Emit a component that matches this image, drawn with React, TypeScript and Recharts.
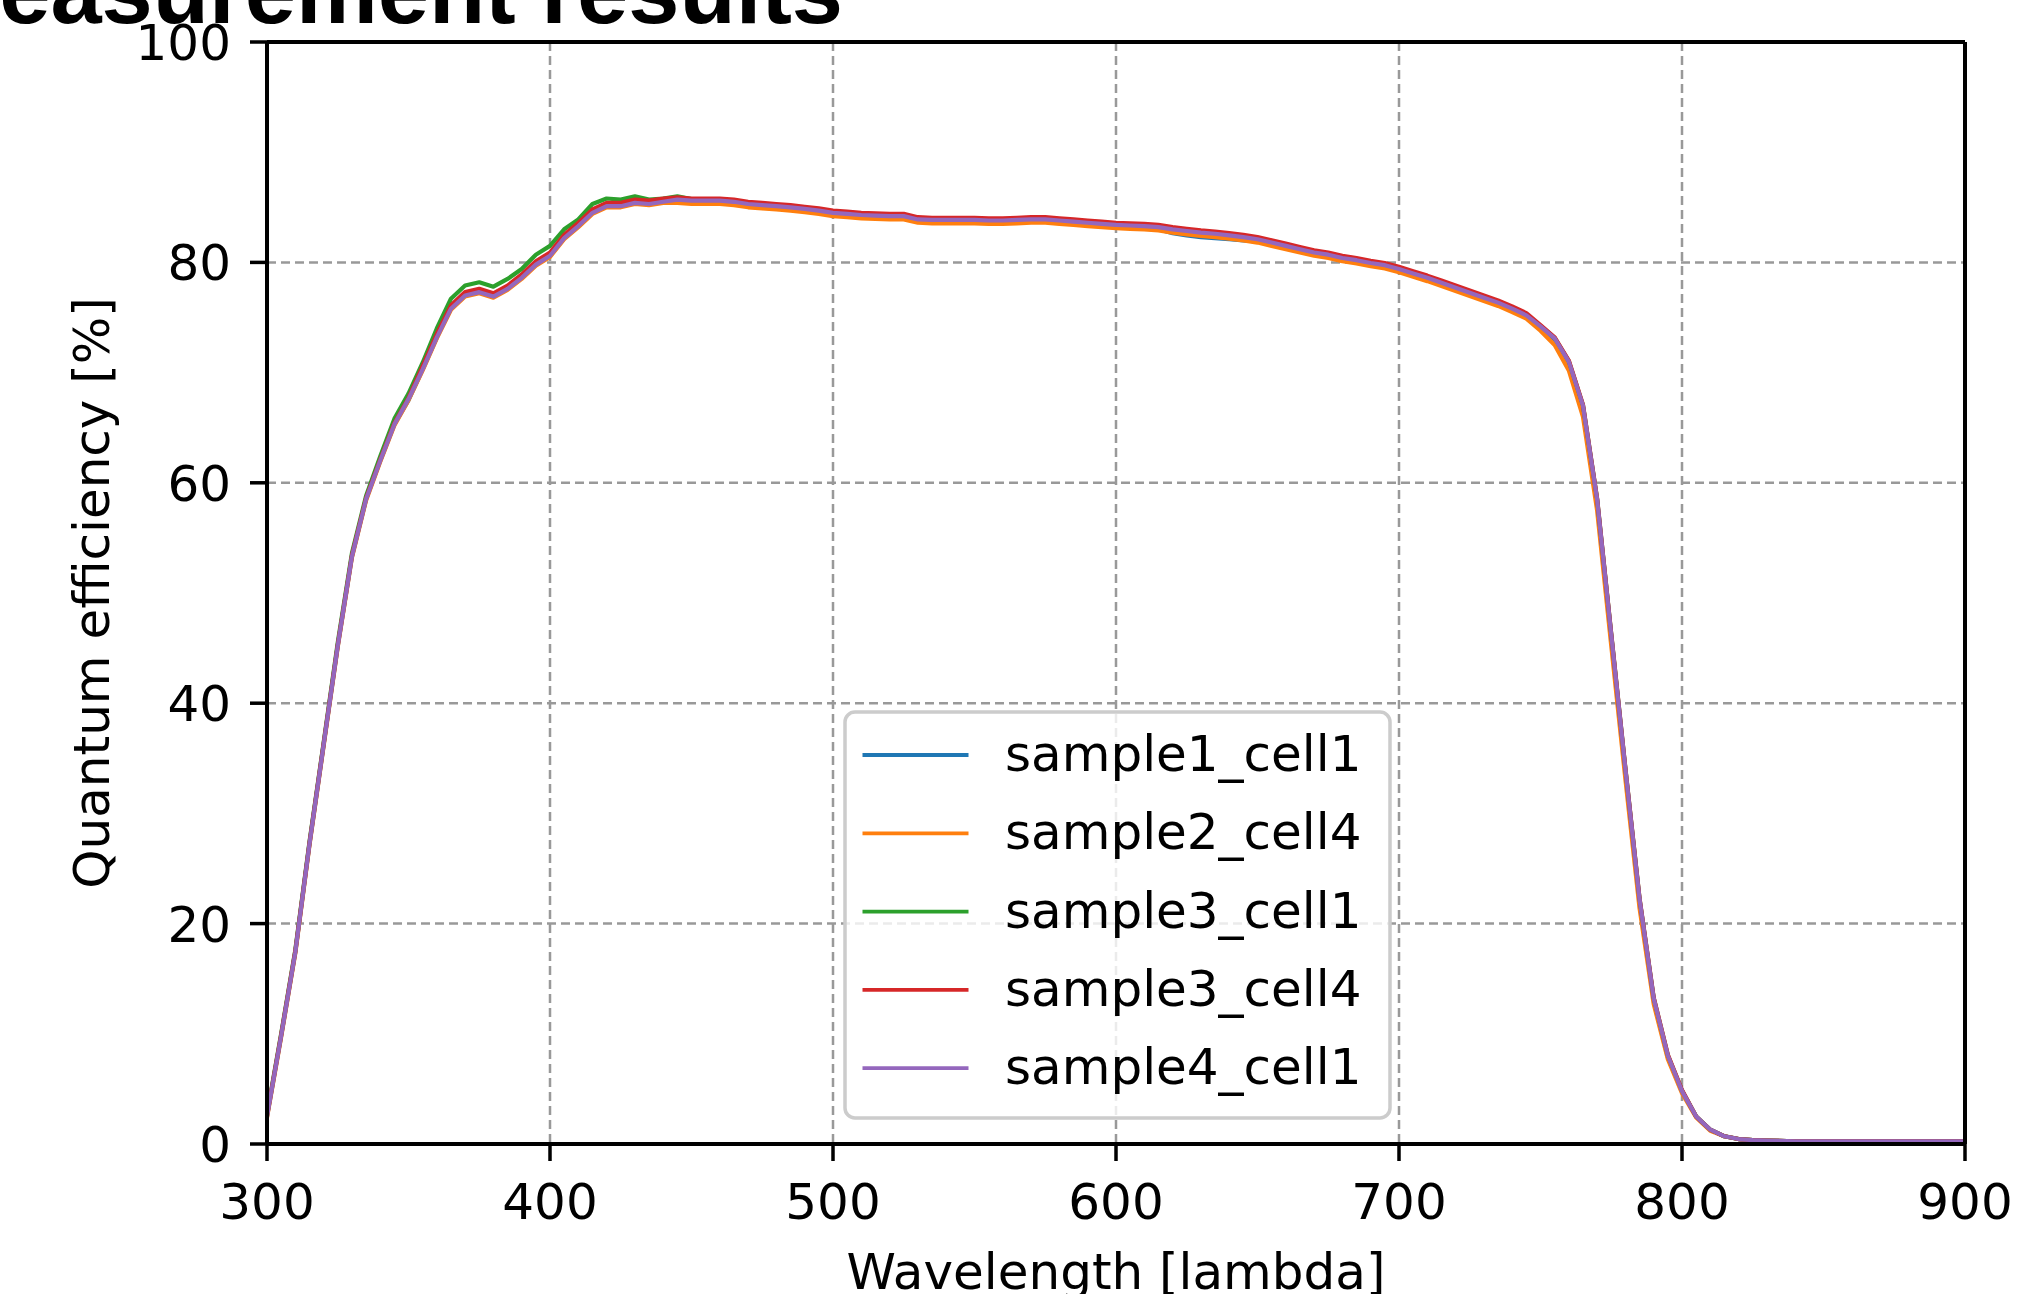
import React from 'react';
import { LineChart, Line, XAxis, YAxis, CartesianGrid, ReferenceLine, Legend, Label } from 'recharts';

const wavelengths = [
  300, 305, 310, 315, 320, 325, 330, 335, 340, 345, 350, 355, 360, 365, 370, 375, 380, 385, 390, 395,
  400, 405, 410, 415, 420, 425, 430, 435, 440, 445, 450, 455, 460, 465, 470, 475, 480, 485, 490, 495,
  500, 505, 510, 515, 520, 525, 530, 535, 540, 545, 550, 555, 560, 565, 570, 575, 580, 585, 590, 595,
  600, 605, 610, 615, 620, 625, 630, 635, 640, 645, 650, 655, 660, 665, 670, 675, 680, 685, 690, 695,
  700, 705, 710, 715, 720, 725, 730, 735, 740, 745, 750, 755, 760, 765, 770, 775, 780, 785, 790, 795,
  800, 805, 810, 815, 820, 825, 830, 840, 860, 880, 900,
];

const sample1_cell1 = [
  2.5, 9.8, 17.4, 27.2, 36.2, 45.2, 53.3, 58.5, 62.0, 65.3, 67.5, 70.3, 73.2, 75.8, 77.0, 77.3, 76.9, 77.6, 78.6, 79.8,
  80.6, 82.2, 83.3, 84.5, 85.1, 85.1, 85.4, 85.3, 85.5, 85.6, 85.5, 85.5, 85.5, 85.4, 85.2, 85.1, 85.0, 84.9, 84.75, 84.6,
  84.4, 84.3, 84.2, 84.15, 84.1, 84.1, 83.8, 83.75, 83.75, 83.75, 83.75, 83.7, 83.7, 83.75, 83.8, 83.8, 83.7, 83.6, 83.5, 83.4,
  83.3, 83.25, 83.2, 83.0, 82.65, 82.45, 82.3, 82.2, 82.1, 82.0, 81.9, 81.7, 81.4, 81.1, 80.8, 80.6, 80.3, 80.1, 79.85, 79.65,
  79.3, 78.9, 78.5, 78.05, 77.6, 77.15, 76.7, 76.25, 75.7, 75.1, 74.1, 73.0, 70.9, 66.9, 58.4, 46.1, 33.9, 22.1, 13.1, 7.9,
  4.8, 2.5, 1.3, 0.7, 0.45, 0.35, 0.3, 0.25, 0.25, 0.25, 0.25,
];

const sample2_cell4 = [
  2.4, 9.7, 17.3, 27.1, 36.1, 45.1, 53.2, 58.4, 61.9, 65.2, 67.5, 70.2, 73.1, 75.7, 76.9, 77.2, 76.8, 77.5, 78.5, 79.7,
  80.5, 82.1, 83.2, 84.4, 85.0, 85.0, 85.3, 85.2, 85.4, 85.4, 85.3, 85.3, 85.3, 85.2, 85.0, 84.9, 84.8, 84.7, 84.55, 84.4,
  84.2, 84.1, 84.0, 83.95, 83.9, 83.9, 83.6, 83.55, 83.55, 83.55, 83.55, 83.5, 83.5, 83.55, 83.6, 83.6, 83.5, 83.4, 83.3, 83.2,
  83.1, 83.05, 83.0, 82.9, 82.7, 82.55, 82.4, 82.3, 82.15, 82.0, 81.8, 81.5, 81.2, 80.9, 80.6, 80.4, 80.1, 79.9, 79.65, 79.45,
  79.1, 78.7, 78.3, 77.85, 77.4, 76.95, 76.5, 76.05, 75.5, 74.9, 73.8, 72.5, 70.2, 66.0, 57.5, 45.2, 33.1, 21.4, 12.7, 7.7,
  4.6, 2.4, 1.2, 0.7, 0.45, 0.35, 0.3, 0.25, 0.25, 0.25, 0.25,
];

const sample3_cell1 = [
  2.7, 10.0, 17.6, 27.4, 36.4, 45.5, 53.6, 58.8, 62.4, 65.8, 68.1, 70.9, 74.0, 76.7, 77.9, 78.2, 77.8, 78.5, 79.4, 80.7,
  81.5, 83.0, 83.9, 85.3, 85.8, 85.7, 86.0, 85.7, 85.8, 86.0, 85.75, 85.7, 85.7, 85.6, 85.4, 85.3, 85.2, 85.1, 84.95, 84.8,
  84.6, 84.5, 84.4, 84.35, 84.3, 84.3, 84.0, 83.95, 83.95, 83.95, 83.95, 83.9, 83.9, 83.95, 84.0, 84.0, 83.9, 83.8, 83.7, 83.6,
  83.5, 83.45, 83.4, 83.3, 83.1, 82.95, 82.8, 82.7, 82.55, 82.4, 82.2, 81.9, 81.6, 81.3, 81.0, 80.8, 80.5, 80.3, 80.05, 79.85,
  79.5, 79.1, 78.7, 78.25, 77.8, 77.35, 76.9, 76.45, 75.9, 75.3, 74.25, 73.15, 71.05, 67.05, 58.55, 46.25, 34.05, 22.25, 13.25, 8.05,
  4.85, 2.5, 1.3, 0.7, 0.45, 0.35, 0.3, 0.25, 0.25, 0.25, 0.25,
];

const sample3_cell4 = [
  2.6, 9.9, 17.5, 27.3, 36.3, 45.3, 53.4, 58.6, 62.1, 65.4, 67.7, 70.6, 73.5, 76.1, 77.3, 77.6, 77.2, 77.9, 78.9, 80.1,
  80.9, 82.5, 83.6, 84.8, 85.4, 85.4, 85.7, 85.6, 85.8, 85.9, 85.8, 85.8, 85.8, 85.7, 85.5, 85.4, 85.3, 85.2, 85.05, 84.9,
  84.7, 84.6, 84.5, 84.45, 84.4, 84.4, 84.1, 84.05, 84.05, 84.05, 84.05, 84.0, 84.0, 84.05, 84.1, 84.1, 84.0, 83.9, 83.8, 83.7,
  83.6, 83.55, 83.5, 83.4, 83.2, 83.05, 82.9, 82.8, 82.65, 82.5, 82.3, 82.0, 81.7, 81.4, 81.1, 80.9, 80.6, 80.4, 80.15, 79.95,
  79.6, 79.2, 78.8, 78.35, 77.9, 77.45, 77.0, 76.55, 76.0, 75.4, 74.3, 73.2, 71.1, 67.1, 58.6, 46.3, 34.1, 22.3, 13.3, 8.1,
  4.9, 2.5, 1.3, 0.7, 0.45, 0.35, 0.3, 0.25, 0.25, 0.25, 0.25,
];

const sample4_cell1 = [
  2.5, 9.8, 17.4, 27.2, 36.2, 45.2, 53.3, 58.5, 62.0, 65.3, 67.6, 70.3, 73.2, 75.8, 77.0, 77.3, 76.9, 77.6, 78.6, 79.8,
  80.6, 82.2, 83.3, 84.5, 85.1, 85.1, 85.4, 85.3, 85.5, 85.7, 85.6, 85.6, 85.6, 85.5, 85.3, 85.2, 85.1, 85.0, 84.85, 84.7,
  84.5, 84.4, 84.3, 84.25, 84.2, 84.2, 83.9, 83.85, 83.85, 83.85, 83.85, 83.8, 83.8, 83.85, 83.9, 83.9, 83.8, 83.7, 83.6, 83.5,
  83.4, 83.35, 83.3, 83.2, 83.0, 82.85, 82.7, 82.6, 82.45, 82.3, 82.1, 81.8, 81.5, 81.2, 80.9, 80.7, 80.4, 80.2, 79.95, 79.75,
  79.4, 79.0, 78.6, 78.15, 77.7, 77.25, 76.8, 76.35, 75.8, 75.2, 74.2, 73.1, 71.0, 67.0, 58.5, 46.2, 34.0, 22.2, 13.2, 8.0,
  4.8, 2.5, 1.3, 0.7, 0.45, 0.35, 0.3, 0.25, 0.25, 0.25, 0.25,
];

const seriesNames = ['sample1_cell1', 'sample2_cell4', 'sample3_cell1', 'sample3_cell4', 'sample4_cell1'];
const seriesValues = [sample1_cell1, sample2_cell4, sample3_cell1, sample3_cell4, sample4_cell1];
const seriesColors = ['#1f77b4', '#ff7f0e', '#2ca02c', '#d62728', '#9467bd'];

const xTicks = [300, 400, 500, 600, 700, 800, 900];
const yTicks = [0, 20, 40, 60, 80, 100];

const titleText = 'Measurement results';
const xLabelText = 'Wavelength [lambda]';
const yLabelText = 'Quantum efficiency [%]';

const data = wavelengths.map((wl, i) => {
  const row: Record<string, number> = { wl };
  seriesNames.forEach((n, k) => {
    row[n] = seriesValues[k][i];
  });
  return row;
});

const W = 2041;
const H = 1294;
const PLOT_LEFT = 267;
const PLOT_RIGHT = 1965;
const PLOT_TOP = 42;
const PLOT_BOTTOM = 1144;
const Y_AXIS_W = 100;
const X_AXIS_H = 60;
const FONT = '"DejaVu Sans", sans-serif';

const XTick = (props: any) => {
  const { x, y, payload } = props;
  return (
    <text x={x} y={y + 58} textAnchor="middle" fontFamily={FONT} fontSize={50} fill="#000">
      {payload.value}
    </text>
  );
};

const YTick = (props: any) => {
  const { x, y, payload } = props;
  return (
    <text x={x - 19} y={y + 18} textAnchor="end" fontFamily={FONT} fontSize={50} fill="#000">
      {payload.value}
    </text>
  );
};

const LegendBox = () => {
  const rowGap = 78.3;
  return (
    <svg width={552} height={412} style={{ display: 'block', overflow: 'visible' }}>
      <rect x={2} y={2} width={545} height={406} rx={10} ry={10} fill="#ffffff" fillOpacity={0.8} stroke="#cccccc" strokeWidth={3.5} />
      {seriesNames.map((n, i) => (
        <g key={n}>
          <line x1={19.5} x2={125.5} y1={45 + i * rowGap} y2={45 + i * rowGap} stroke={seriesColors[i]} strokeWidth={3.8} />
          <text x={162} y={45 + i * rowGap + 16} fontFamily={FONT} fontSize={50} fill="#000">
            {n}
          </text>
        </g>
      ))}
    </svg>
  );
};

export default function App() {
  return (
    <div style={{ position: 'absolute', left: 0, top: 0, width: W, height: H, background: '#fff', overflow: 'hidden' }}>
      <LineChart
        width={W}
        height={H}
        data={data}
        margin={{ top: PLOT_TOP, right: W - PLOT_RIGHT, left: PLOT_LEFT - Y_AXIS_W, bottom: H - PLOT_BOTTOM - X_AXIS_H }}
      >
        <CartesianGrid stroke="#999999" strokeWidth={2.5} strokeDasharray="9 5" />
        <XAxis
          dataKey="wl"
          type="number"
          domain={[300, 900]}
          ticks={xTicks}
          height={X_AXIS_H}
          allowDataOverflow
          stroke="#000"
          axisLine={{ stroke: '#000', strokeWidth: 4 }}
          tickLine={{ stroke: '#000', strokeWidth: 3.5 }}
          tickSize={17}
          tickMargin={0}
          tick={<XTick />}
          interval={0}
        >
          <Label
            content={() => (
              <text x={(PLOT_LEFT + PLOT_RIGHT) / 2} y={1289} textAnchor="middle" fontFamily={FONT} fontSize={50} fill="#000">
                {xLabelText}
              </text>
            )}
          />
        </XAxis>
        <YAxis
          type="number"
          domain={[0, 100]}
          ticks={yTicks}
          width={Y_AXIS_W}
          allowDataOverflow
          axisLine={{ stroke: '#000', strokeWidth: 4 }}
          tickLine={{ stroke: '#000', strokeWidth: 3.5 }}
          tickSize={17}
          tickMargin={0}
          tick={<YTick />}
          interval={0}
        >
          <Label
            content={() => (
              <text
                x={109}
                y={(PLOT_TOP + PLOT_BOTTOM) / 2}
                transform={`rotate(-90 109 ${(PLOT_TOP + PLOT_BOTTOM) / 2})`}
                textAnchor="middle"
                fontFamily={FONT}
                fontSize={50}
                fill="#000"
              >
                {yLabelText}
              </text>
            )}
          />
        </YAxis>
        {seriesNames.map((n, i) => (
          <Line
            key={n}
            type="linear"
            dataKey={n}
            name={n}
            stroke={seriesColors[i]}
            strokeWidth={4.2}
            strokeLinejoin="round"
            strokeLinecap="square"
            dot={false}
            activeDot={false}
            isAnimationActive={false}
          />
        ))}
        <ReferenceLine y={100} stroke="#000" strokeWidth={4} />
        <ReferenceLine x={900} stroke="#000" strokeWidth={4} />
        <Legend
          layout="vertical"
          align="center"
          verticalAlign="middle"
          content={() => <LegendBox />}
          wrapperStyle={{ position: 'absolute', left: 843, top: 710, width: 552, height: 412 }}
        />
      </LineChart>
      <svg
        width={W}
        height={H}
        style={{ position: 'absolute', left: 0, top: 0, pointerEvents: 'none' }}
      >
        <text x={843} y={23} textAnchor="end" fontFamily='"Liberation Sans", Arial, sans-serif' fontWeight="bold" fontSize={92} fill="#000">
          {titleText}
        </text>
      </svg>
    </div>
  );
}
